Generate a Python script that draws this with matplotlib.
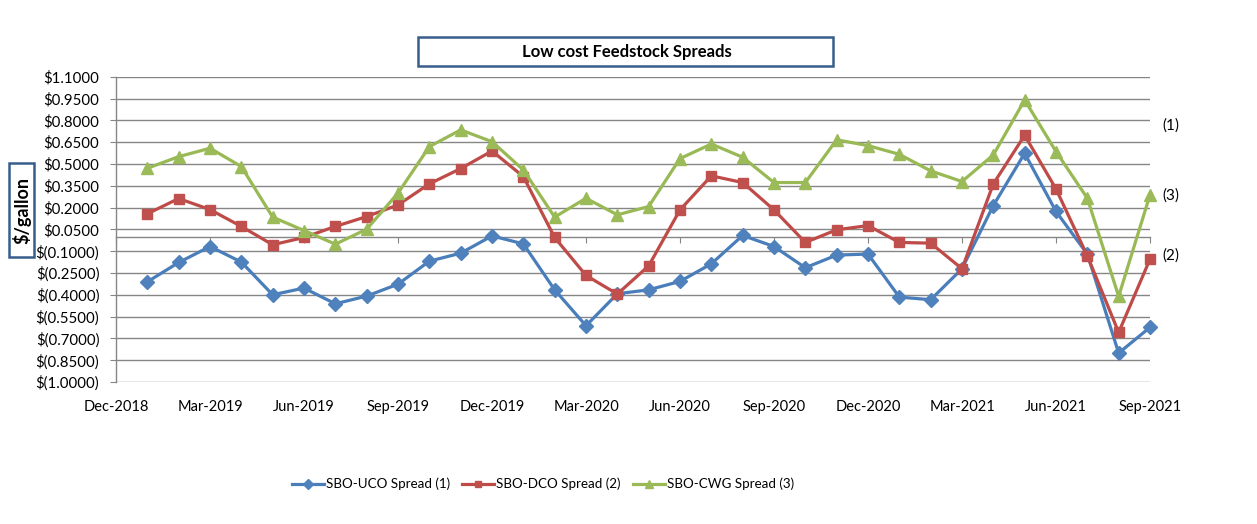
import datetime as dt
import matplotlib
matplotlib.use('Agg')
import matplotlib.pyplot as plt
import matplotlib.transforms as mtransforms
from matplotlib.patches import Rectangle
from matplotlib.ticker import FuncFormatter

# ---------------- data ----------------
months = ['Jan-2019', 'Feb-2019', 'Mar-2019', 'Apr-2019', 'May-2019', 'Jun-2019',
          'Jul-2019', 'Aug-2019', 'Sep-2019', 'Oct-2019', 'Nov-2019', 'Dec-2019',
          'Jan-2020', 'Feb-2020', 'Mar-2020', 'Apr-2020', 'May-2020', 'Jun-2020',
          'Jul-2020', 'Aug-2020', 'Sep-2020', 'Oct-2020', 'Nov-2020', 'Dec-2020',
          'Jan-2021', 'Feb-2021', 'Mar-2021', 'Apr-2021', 'May-2021', 'Jun-2021',
          'Jul-2021', 'Aug-2021', 'Sep-2021']

sbo_uco = [-0.311, -0.178, -0.068, -0.175, -0.400, -0.354, -0.462, -0.409, -0.327,
           -0.169, -0.114, 0.005, -0.050, -0.366, -0.613, -0.393, -0.366, -0.308,
           -0.187, 0.008, -0.068, -0.214, -0.127, -0.120, -0.416, -0.434, -0.221,
           0.214, 0.573, 0.173, -0.120, -0.801, -0.624]

sbo_dco = [0.157, 0.262, 0.186, 0.070, -0.056, -0.006, 0.070, 0.138, 0.218,
           0.363, 0.468, 0.589, 0.413, -0.006, -0.267, -0.395, -0.201, 0.184,
           0.418, 0.372, 0.184, -0.040, 0.047, 0.076, -0.040, -0.045, -0.221,
           0.363, 0.697, 0.328, -0.132, -0.659, -0.155]

sbo_cwg = [0.470, 0.550, 0.608, 0.482, 0.134, 0.042, -0.052, 0.051, 0.299,
           0.619, 0.734, 0.653, 0.459, 0.134, 0.264, 0.150, 0.207, 0.537,
           0.637, 0.546, 0.372, 0.372, 0.666, 0.626, 0.566, 0.452, 0.379,
           0.562, 0.940, 0.585, 0.264, -0.411, 0.287]

series_names = ['SBO-UCO Spread (1)', 'SBO-DCO Spread (2)', 'SBO-CWG Spread (3)']
x_tick_labels = ['Dec-2018', 'Mar-2019', 'Jun-2019', 'Sep-2019', 'Dec-2019',
                 'Mar-2020', 'Jun-2020', 'Sep-2020', 'Dec-2020', 'Mar-2021',
                 'Jun-2021', 'Sep-2021']
y_ticks = [-1.0, -0.85, -0.7, -0.55, -0.4, -0.25, -0.1, 0.05, 0.2, 0.35, 0.5,
           0.65, 0.8, 0.95, 1.1]
title = 'Low cost Feedstock Spreads'
y_label = '$/gallon'
right_labels = ['(1)', '(3)', '(2)']
right_label_y = [0.761, 0.281, -0.131]

# ---------------- helpers ----------------
def month_index(label):
    d = dt.datetime.strptime(label, '%b-%Y')
    return (d.year - 2018) * 12 + d.month - 12


def money(v, _pos=None):
    if abs(v) < 1e-9:
        v = 0.0
    if v < 0:
        return f'$({-v:.4f})'
    return f'${v:.4f}'


plt.rcParams['font.family'] = ['Lato', 'DejaVu Sans']

W, H = 1257, 524
fig = plt.figure(figsize=(W / 100, H / 100), dpi=100)
fig.patch.set_facecolor('white')

ax = fig.add_axes([116 / W, 1 - 382 / H, (1150 - 116) / W, (382 - 76.7) / H])

x = [month_index(m) for m in months]
styles = [
    dict(color='#4A7EBB', marker='D', ms=7.5, mfc='#4F81BD', mec='#4F81BD'),
    dict(color='#BE4B48', marker='s', ms=6.8, mfc='#C0504D', mec='#C0504D'),
    dict(color='#98B954', marker='^', ms=8.5, mfc='#9BBB59', mec='#9BBB59'),
]
handles = []
for vals, name, st in zip([sbo_uco, sbo_dco, sbo_cwg], series_names, styles):
    h, = ax.plot(x, vals, lw=2.3, label=name, zorder=3, clip_on=False, **st)
    handles.append(h)

tick_pos = [month_index(t) for t in x_tick_labels]
ax.set_xlim(tick_pos[0], tick_pos[-1])
ax.set_ylim(y_ticks[0], y_ticks[-1])

ax.set_yticks(y_ticks)
ax.yaxis.set_major_formatter(FuncFormatter(money))
ax.yaxis.grid(True, color='#868686', lw=1.0, zorder=0)
ax.set_axisbelow(True)

for s in ['top', 'right']:
    ax.spines[s].set_visible(False)
ax.spines['left'].set_color('#868686')
ax.spines['left'].set_linewidth(1.0)
ax.spines['bottom'].set_position(('data', 0))
ax.spines['bottom'].set_color('#868686')
ax.spines['bottom'].set_linewidth(1.0)
ax.set_xticks(tick_pos)
ax.tick_params(axis='x', direction='out', length=4, color='#868686',
               labelbottom=False)
ax.tick_params(axis='y', direction='out', length=4, color='#868686',
               labelsize=10.8, pad=8, labelcolor='black')

sec = ax.secondary_xaxis(0.0)
sec.set_xticks(tick_pos, labels=x_tick_labels)
sec.tick_params(length=0, pad=13, labelsize=10.5)
sec.spines['bottom'].set_visible(False)

# right-hand labels
trans = mtransforms.blended_transform_factory(ax.transAxes, ax.transData)
for lab, yv in zip(right_labels, right_label_y):
    ax.text(1.0116, yv, lab, transform=trans, ha='left', va='center',
            fontsize=11)

# title box
box_col = '#385D8A'
fig.patches.append(Rectangle((418 / W, 1 - 66 / H), 415 / W, 29 / H,
                             transform=fig.transFigure, fill=False,
                             ec=box_col, lw=1.8))
fig.text(627 / W, 1 - 52 / H, title, ha='center', va='center',
         fontsize=12, fontweight='bold')

# y-label box
fig.patches.append(Rectangle((9 / W, 1 - 257 / H), 25 / W, 94 / H,
                             transform=fig.transFigure, fill=False,
                             ec=box_col, lw=1.8))
fig.text(21.5 / W, 1 - 210 / H, y_label, ha='center', va='center',
         rotation=90, fontsize=13, fontweight='bold')

leg = fig.legend(handles=handles, loc='center', bbox_to_anchor=(543 / W, 1 - 484 / H),
                 ncol=3, frameon=False, fontsize=9.6, handlelength=2.4,
                 handletextpad=0.15, columnspacing=0.9, markerscale=0.7)

fig.savefig('out.png', dpi=100, facecolor='white')
